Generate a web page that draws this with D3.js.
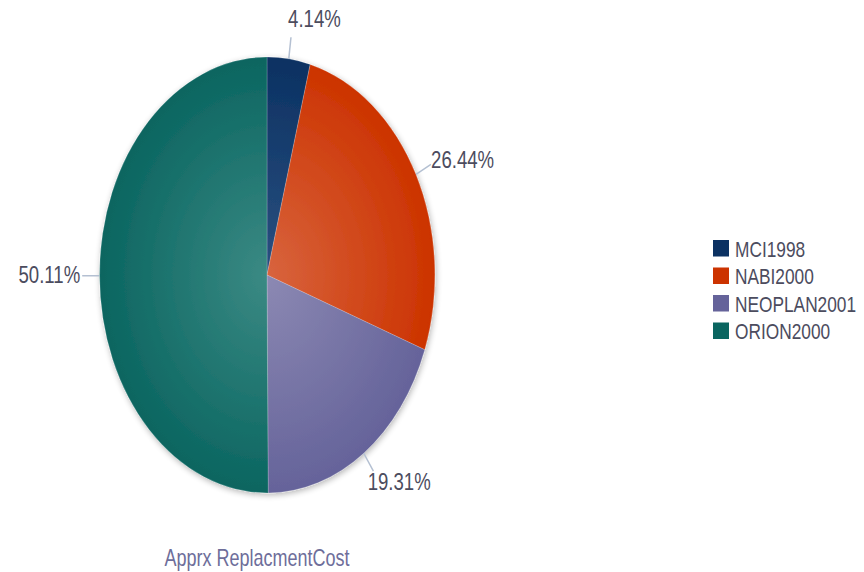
<!DOCTYPE html>
<html><head><meta charset="utf-8">
<script src="https://cdn.jsdelivr.net/npm/d3@7"></script>
<style>body{margin:0;background:#fff}svg{display:block}text{font-family:"Liberation Sans",Arial,sans-serif}</style>
</head><body><svg id="c" width="864" height="572"></svg>
<script>
const categories = ["MCI1998","NABI2000","NEOPLAN2001","ORION2000"];
const values = [4.14, 26.44, 19.31, 50.11];
const labels = ["4.14%","26.44%","19.31%","50.11%"];
const colors = ["#0b3162","#cc3300","#65639a","#0a6560"];
const centers = ["#2a5080","#d8643e","#8c89b3","#3b8a84"];
const title = "Apprx ReplacmentCost";

const svg = d3.select("#c");
const cx = 267, cy = 275, rx = 168, ry = 218, SY = 1.3;
const defs = svg.append("defs");
const f = defs.append("filter").attr("id","sh").attr("x","-20%").attr("y","-20%").attr("width","140%").attr("height","140%");
f.append("feGaussianBlur").attr("in","SourceAlpha").attr("stdDeviation",3);
f.append("feOffset").attr("dx",1).attr("dy",2).attr("result","b");
f.append("feComponentTransfer").append("feFuncA").attr("type","linear").attr("slope",0.3);
const m = f.append("feMerge"); m.append("feMergeNode"); m.append("feMergeNode").attr("in","SourceGraphic");

categories.forEach((c,i)=>{
  const g = defs.append("radialGradient").attr("id","g"+i).attr("gradientUnits","userSpaceOnUse")
    .attr("cx",0).attr("cy",0).attr("r",1);
  g.append("stop").attr("offset","0%").attr("stop-color",centers[i]);
  g.append("stop").attr("offset","100%").attr("stop-color",colors[i]);
});

function stext(parent, x, y, str, size, fill, anchor){
  return parent.append("g").attr("transform",`translate(${x},${y}) scale(1,${SY})`)
    .append("text").attr("x",0).attr("y",0).attr("text-anchor",anchor||"start")
    .attr("font-size",size).attr("fill",fill).text(str);
}

const pie = d3.pie().sort(null).value(d=>d)(values);
const arc = d3.arc().innerRadius(0).outerRadius(1);
const pg = svg.append("g").attr("filter","url(#sh)");
const inner = pg.append("g").attr("transform",`translate(${cx},${cy}) scale(${rx},${ry})`);
inner.selectAll("path").data(pie).join("path")
  .attr("d",arc).attr("fill",(d,i)=>`url(#g${i})`)
  .attr("stroke","#ffffff").attr("stroke-opacity",0.25).attr("stroke-width",0.004);

pie.forEach((d,i)=>{
  const a = (d.startAngle+d.endAngle)/2;
  const s = Math.sin(a), c = Math.cos(a);
  const x1 = cx+rx*s, y1 = cy-ry*c;
  const x2 = cx+rx*1.1*s, y2 = cy-ry*1.1*c;
  svg.append("line").attr("x1",x1).attr("y1",y1).attr("x2",x2).attr("y2",y2)
    .attr("stroke","#b4c0d2").attr("stroke-width",1.5);
  const right = s > 0.05;
  const dy = c > 0.7 ? 7-17*c : (c < -0.7 ? 7-14*c : 7-8*c);
  const dx = right ? 1 - 4*c*c - 5*Math.max(0,-c) : -2;
  stext(svg, x2+dx, y2+dy, labels[i], 18.6, "#4c4c5e", right ? "start":"end");
});

const lg = svg.append("g").attr("transform","translate(713,240)");
categories.forEach((c,i)=>{
  const r = lg.append("g").attr("transform",`translate(0,${i*27.5})`);
  r.append("rect").attr("width",16).attr("height",16.5).attr("fill",colors[i]);
  stext(r, 22, 16.5, c, 17.3, "#4c4c5e", "start");
});

stext(svg, 257, 566, title, 18, "#6e6e9a", "middle");
</script></body></html>
